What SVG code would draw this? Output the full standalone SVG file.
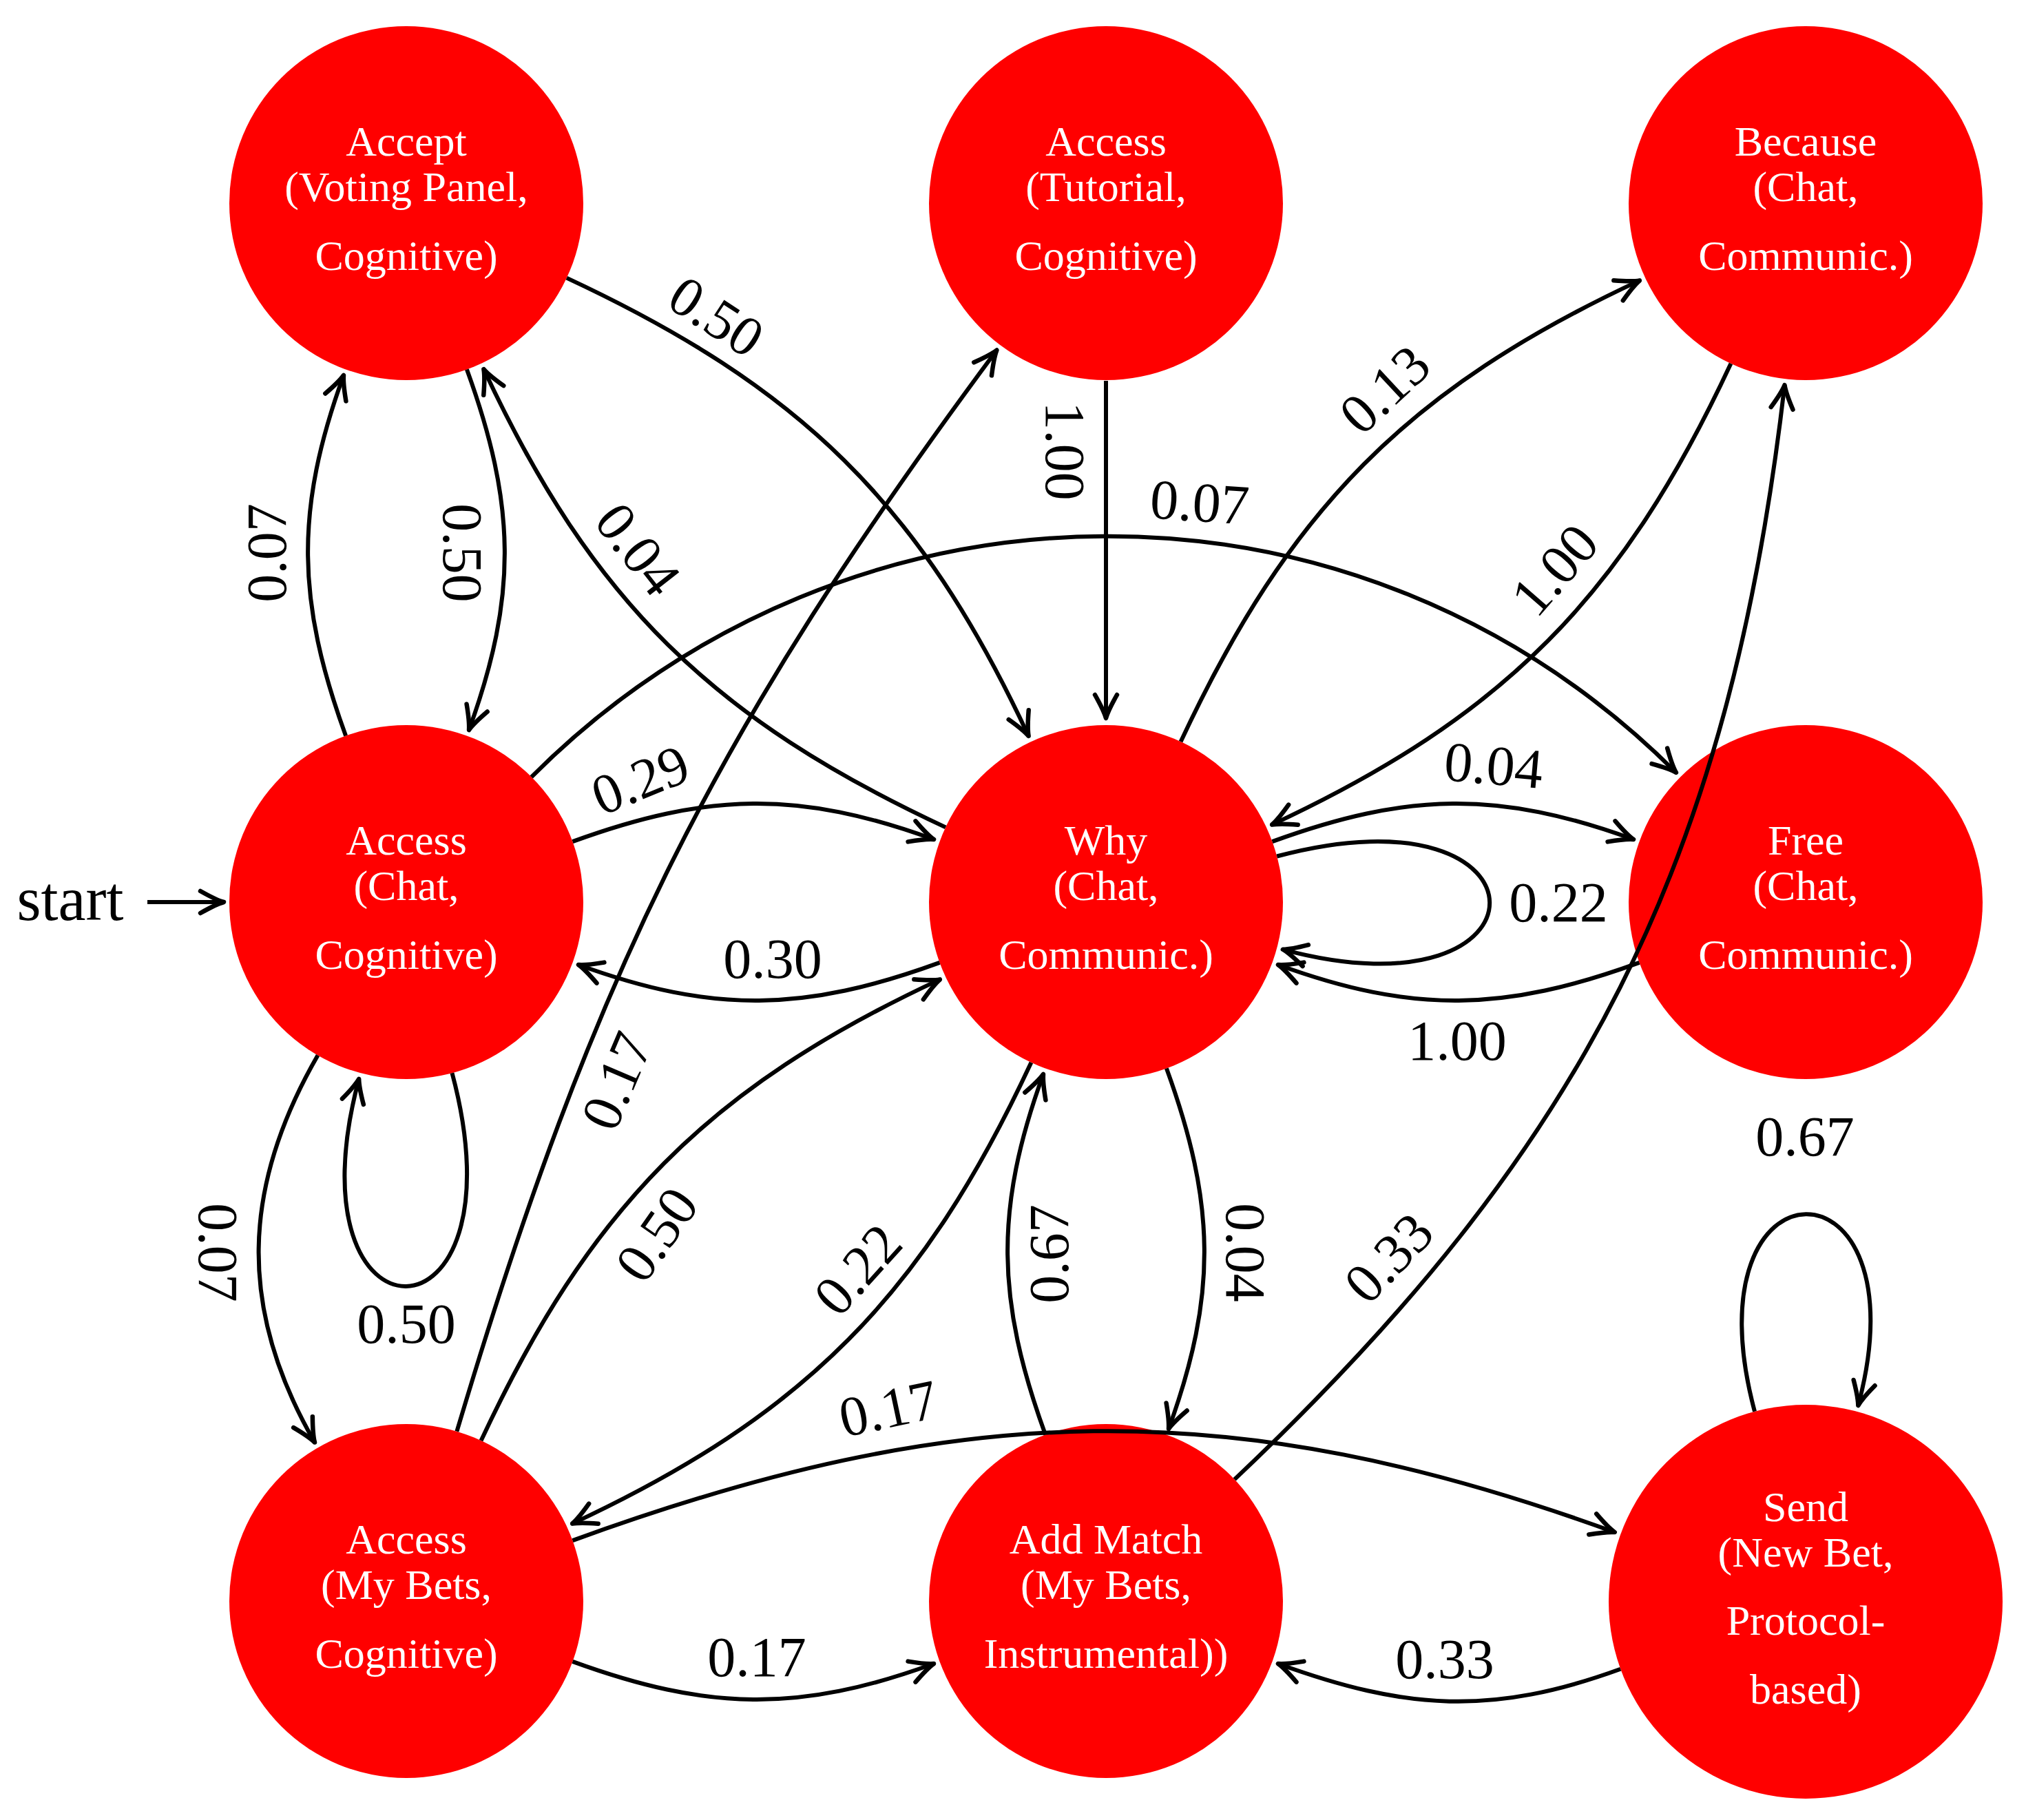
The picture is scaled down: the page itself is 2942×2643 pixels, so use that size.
<svg xmlns="http://www.w3.org/2000/svg" width="2942" height="2643" viewBox="0 0 2942 2643">
<style>
.node circle{fill:#FF0000;}
.node text{fill:#FFFFFF;font-family:"Liberation Serif",serif;font-size:62px;text-anchor:middle;}
.edges path{fill:none;stroke:#000;stroke-width:6;marker-end:url(#arr);}
.lbl{font-family:"Liberation Serif",serif;font-size:82px;text-anchor:middle;fill:#000;}
</style>
<defs>
<marker id="arr" markerUnits="userSpaceOnUse" orient="auto" overflow="visible" markerWidth="1" markerHeight="1" refX="0" refY="0">
<path d="M-34,-16 Q-11,-3 0,0 Q-11,3 -34,16" fill="none" stroke="#000" stroke-width="6.5" stroke-linecap="round" stroke-linejoin="round"/>
</marker>
</defs>
<rect width="2942" height="2643" fill="#FFFFFF"/>

<g id="n_accept" class="node"><circle cx="590" cy="295" r="257"/>
<text x="590" y="226">Accept</text><text x="590" y="292">(Voting Panel,</text><text x="590" y="392">Cognitive)</text></g>
<g id="n_tutorial" class="node"><circle cx="1606" cy="295" r="257"/>
<text x="1606" y="226">Access</text><text x="1606" y="292">(Tutorial,</text><text x="1606" y="392">Cognitive)</text></g>
<g id="n_because" class="node"><circle cx="2622" cy="295" r="257"/>
<text x="2622" y="226">Because</text><text x="2622" y="292">(Chat,</text><text x="2622" y="392">Communic.)</text></g>
<g id="n_chat" class="node"><circle cx="590" cy="1310" r="257"/>
<text x="590" y="1241">Access</text><text x="590" y="1307">(Chat,</text><text x="590" y="1407">Cognitive)</text></g>
<g id="n_why" class="node"><circle cx="1606" cy="1310" r="257"/>
<text x="1606" y="1241">Why</text><text x="1606" y="1307">(Chat,</text><text x="1606" y="1407">Communic.)</text></g>
<g id="n_free" class="node"><circle cx="2622" cy="1310" r="257"/>
<text x="2622" y="1241">Free</text><text x="2622" y="1307">(Chat,</text><text x="2622" y="1407">Communic.)</text></g>
<g id="n_mybets" class="node"><circle cx="590" cy="2325" r="257"/>
<text x="590" y="2256">Access</text><text x="590" y="2322">(My Bets,</text><text x="590" y="2422">Cognitive)</text></g>
<g id="n_addmatch" class="node"><circle cx="1606" cy="2325" r="257"/>
<text x="1606" y="2256">Add Match</text><text x="1606" y="2322">(My Bets,</text><text x="1606" y="2422">Instrumental))</text></g>
<g id="n_send" class="node"><circle cx="2622" cy="2326" r="286"/>
<text x="2622" y="2209">Send</text><text x="2622" y="2275">(New Bet,</text><text x="2622" y="2374">Protocol-</text><text x="2622" y="2474">based)</text></g>

<g id="connectors" class="edges">
<path d="M214,1310 L325,1310"/>
<path d="M822.9,403.6 C1161.1,561.3 1335.9,730.7 1493.6,1068.9"/>
<path d="M677.9,536.5 C749.1,732.2 752.2,864.3 681,1060"/>
<path d="M502.1,1068.5 C430.9,872.8 427.8,740.7 499,545"/>
<path d="M1373.1,1201.4 C1034.9,1043.7 860.1,874.3 702.4,536.1"/>
<path d="M1606,553 L1606,1043"/>
<path d="M663.4,2078.7 C860.7,1416.9 1035.7,1063 1447.4,508.5"/>
<path d="M1714.6,1077.1 C1872.3,738.9 2042.7,565.1 2380.9,407.4"/>
<path d="M2513.4,527.9 C2355.7,866.1 2185.3,1039.9 1847.1,1197.6"/>
<path d="M771.7,1128.3 C1233.6,666.4 1972,660 2433.9,1121.9"/>
<path d="M831.5,1222.1 C1027.6,1150.7 1159.9,1147.6 1356,1219"/>
<path d="M1364.5,1397.9 C1168.4,1469.3 1036.1,1472.4 840,1401"/>
<path d="M1847.5,1222.1 C2043.6,1150.7 2175.9,1147.6 2372,1219"/>
<path d="M1854.2,1243.5 C2264.7,1133.5 2264.7,1486.5 1862.9,1378.8"/>
<path d="M2380.5,1397.9 C2184.4,1469.3 2052.1,1472.4 1856,1401"/>
<path d="M656.5,1558.2 C766.8,1969.7 413.2,1969.7 521.2,1566.9"/>
<path d="M461.5,1532.6 C350,1725.8 345.5,1901.4 457,2094.6"/>
<path d="M698.6,2092.1 C856.3,1753.9 1026.7,1580.1 1364.9,1422.4"/>
<path d="M1497.4,1542.9 C1339.7,1881.1 1169.3,2054.9 831.1,2212.6"/>
<path d="M1518.1,2083.5 C1446.9,1887.8 1443.8,1755.7 1515,1560"/>
<path d="M1693.9,1551.5 C1765.1,1747.2 1768.2,1879.3 1697,2075"/>
<path d="M1792.7,2148.4 C2300.9,1667.6 2511.1,1254.2 2591.5,559.2"/>
<path d="M831.5,2237.1 C1391.3,2033.4 1784.9,2021.4 2344.7,2225.1"/>
<path d="M831.5,2412.9 C1027.6,2484.3 1159.9,2487.4 1356,2416"/>
<path d="M2353.2,2423.8 C2167.1,2491.5 2042.1,2483.7 1856,2416"/>
<path d="M2548,2049.7 C2446,1669.1 2798,1669.1 2698.3,2041"/>
</g>

<g id="labels">
<text class="lbl" x="102" y="1336" style="font-size:90px">start</text>
<text class="lbl" transform="translate(1040,460) rotate(33)" dy="27">0.50</text>
<text class="lbl" transform="translate(671,803) rotate(90)" dy="27">0.50</text>
<text class="lbl" transform="translate(388,803) rotate(-90)" dy="27">0.07</text>
<text class="lbl" transform="translate(926,798) rotate(52)" dy="27">0.04</text>
<text class="lbl" transform="translate(1546,655) rotate(90)" dy="27">1.00</text>
<text class="lbl" transform="translate(896,1570) rotate(-67)" dy="27">0.17</text>
<text class="lbl" transform="translate(2011,566) rotate(-43)" dy="27">0.13</text>
<text class="lbl" transform="translate(2258,828) rotate(-49)" dy="27">1.00</text>
<text class="lbl" transform="translate(1742,730) rotate(4)" dy="27">0.07</text>
<text class="lbl" transform="translate(930,1133) rotate(-22)" dy="27">0.29</text>
<text class="lbl" transform="translate(1122,1393)" dy="27">0.30</text>
<text class="lbl" transform="translate(2169,1112) rotate(5)" dy="27">0.04</text>
<text class="lbl" transform="translate(2263,1311)" dy="27">0.22</text>
<text class="lbl" transform="translate(2116,1512)" dy="27">1.00</text>
<text class="lbl" transform="translate(590,1923)" dy="27">0.50</text>
<text class="lbl" transform="translate(316,1819) rotate(90)" dy="27">0.07</text>
<text class="lbl" transform="translate(954,1793) rotate(-55)" dy="27">0.50</text>
<text class="lbl" transform="translate(1246,1844) rotate(-48)" dy="27">0.22</text>
<text class="lbl" transform="translate(1524,1821) rotate(-90)" dy="27">0.67</text>
<text class="lbl" transform="translate(1808,1819) rotate(90)" dy="27">0.04</text>
<text class="lbl" transform="translate(2017,1827) rotate(-46)" dy="27">0.33</text>
<text class="lbl" transform="translate(1290,2046) rotate(-12)" dy="27">0.17</text>
<text class="lbl" transform="translate(1099,2407)" dy="27">0.17</text>
<text class="lbl" transform="translate(2098,2410)" dy="27">0.33</text>
<text class="lbl" transform="translate(2621,1651)" dy="27">0.67</text>
</g>
</svg>
